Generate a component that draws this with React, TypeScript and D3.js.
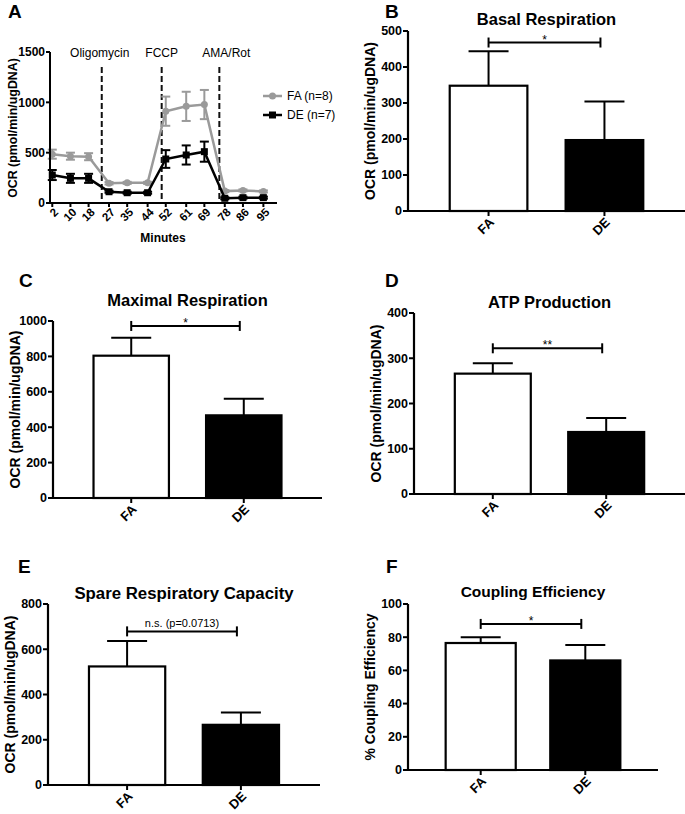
import React from 'react';
import * as d3 from 'd3';

const FONT = '"Liberation Sans", Arial, Helvetica, sans-serif';

// Panel A - OCR trace
const minutes = [2, 10, 18, 27, 35, 44, 52, 61, 69, 78, 86, 95];
const faMean = [485, 465, 460, 196, 200, 200, 912, 960, 978, 118, 125, 115];
const faSem = [45, 35, 35, 12, 10, 10, 145, 145, 145, 10, 10, 10];
const deMean = [278, 245, 245, 112, 102, 102, 437, 477, 510, 47, 53, 53];
const deSem = [50, 45, 45, 10, 10, 10, 88, 95, 100, 10, 10, 10];
const injections = ['Oligomycin', 'FCCP', 'AMA/Rot'];
const injectionMinutes = [23.8, 50.2, 75.6];
const traceTicks = [0, 500, 1000, 1500];

// Panels B-F
const groups = ['FA', 'DE'];
const basalMean = [348, 197];
const basalSem = [96, 107];
const basalTicks = [0, 100, 200, 300, 400, 500];
const maximalMean = [804, 467];
const maximalSem = [102, 94];
const maximalTicks = [0, 200, 400, 600, 800, 1000];
const atpMean = [266, 137];
const atpSem = [23, 31];
const atpTicks = [0, 100, 200, 300, 400];
const spareMean = [524, 266];
const spareSem = [113, 54];
const spareTicks = [0, 200, 400, 600, 800];
const couplingMean = [76.5, 66];
const couplingSem = [3.5, 9.3];
const couplingTicks = [0, 20, 40, 60, 80, 100];

function TracePanel() {
  const x = d3.scaleLinear().domain([1, 101]).range([50, 277]);
  const y = d3.scaleLinear().domain([0, 1500]).range([203, 52]);
  const line = d3.line<number>().x((d, i) => x(minutes[i])).y(d => y(d));
  const grey = '#9a9a9a';

  const errBars = (mean: number[], sem: number[], color: string) =>
    mean.map((m, i) => {
      const cx = x(minutes[i]);
      return (
        <g key={i} stroke={color} strokeWidth={2}>
          <line x1={cx} x2={cx} y1={y(m - sem[i])} y2={y(m + sem[i])} />
          <line x1={cx - 4.5} x2={cx + 4.5} y1={y(m + sem[i])} y2={y(m + sem[i])} />
          <line x1={cx - 4.5} x2={cx + 4.5} y1={y(m - sem[i])} y2={y(m - sem[i])} />
        </g>
      );
    });

  return (
    <g fontFamily={FONT}>
      <text x={8} y={18} fontSize={19} fontWeight="bold">A</text>
      {injectionMinutes.map((t, i) => (
        <g key={i}>
          <line x1={x(t)} x2={x(t)} y1={y(1350)} y2={y(0)} stroke="#111" strokeWidth={2} strokeDasharray="6,3" />
          <text x={x(t) + (i === 2 ? 7 : i === 0 ? -2 : 0)} y={57} fontSize={12} textAnchor="middle">{injections[i]}</text>
        </g>
      ))}
      <path d={line(faMean) || ''} fill="none" stroke={grey} strokeWidth={2.5} />
      {errBars(faMean, faSem, grey)}
      {faMean.map((m, i) => (
        <circle key={i} cx={x(minutes[i])} cy={y(m)} r={3.5} fill={grey} />
      ))}
      <path d={line(deMean) || ''} fill="none" stroke="#000" strokeWidth={2.5} />
      {errBars(deMean, deSem, '#000')}
      {deMean.map((m, i) => (
        <rect key={i} x={x(minutes[i]) - 3.5} y={y(m) - 3.5} width={7} height={7} fill="#000" />
      ))}
      <path d="M50,52V203H277" fill="none" stroke="#000" strokeWidth={2} />
      {traceTicks.map(t => (
        <g key={t}>
          <line x1={46} x2={50} y1={y(t)} y2={y(t)} stroke="#000" strokeWidth={2} />
          <text x={45} y={y(t)} dy="0.35em" fontSize={12} fontWeight="bold" textAnchor="end">{t}</text>
        </g>
      ))}
      {minutes.map(m => (
        <g key={m}>
          <line x1={x(m)} x2={x(m)} y1={203} y2={207} stroke="#000" strokeWidth={2} />
          <text transform={`translate(${x(m) + 4},${210}) rotate(-45)`} dy="0.35em" fontSize={11.5}
            fontWeight="bold" textAnchor="end">{m}</text>
        </g>
      ))}
      <text x={163} y={242} fontSize={12} fontWeight="bold" textAnchor="middle">Minutes</text>
      <text transform={`translate(17,128) rotate(-90)`} fontSize={12.4} fontWeight="bold" textAnchor="middle">
        OCR (pmol/min/ugDNA)
      </text>
      <line x1={263} x2={282} y1={96} y2={96} stroke={grey} strokeWidth={2.5} />
      <circle cx={272.5} cy={96} r={3.5} fill={grey} />
      <text x={287} y={96} dy="0.35em" fontSize={12}>FA (n=8)</text>
      <line x1={263} x2={282} y1={115} y2={115} stroke="#000" strokeWidth={2.5} />
      <rect x={269} y={111.5} width={7} height={7} fill="#000" />
      <text x={287} y={115} dy="0.35em" fontSize={12}>DE (n=7)</text>
    </g>
  );
}

type BarProps = {
  letter: string;
  letterX: number;
  letterY: number;
  title: string;
  titleY: number;
  titleSize: number;
  ylabel: string;
  mean: number[];
  sem: number[];
  ticks: number[];
  sigLevel: number;
  sigText: string;
  left: number;
  right: number;
  top: number;
  bottom: number;
};

function BarPanel(p: BarProps) {
  const yMax = p.ticks[p.ticks.length - 1];
  const y = d3.scaleLinear().domain([0, yMax]).range([p.bottom, p.top]);
  const x = d3.scaleBand().domain(groups).range([p.left, p.right]).paddingInner(0.33).paddingOuter(0.36);
  const bw = x.bandwidth();
  const cx = (g: string) => (x(g) as number) + bw / 2;
  const sy = y(p.sigLevel);
  const sx1 = cx(groups[0]);
  const sx2 = cx(groups[1]) - 4;
  const ns = p.sigText.length > 3;

  return (
    <g fontFamily={FONT}>
      <text x={p.letterX} y={p.letterY} fontSize={19} fontWeight="bold">{p.letter}</text>
      <text x={(p.left + p.right) / 2} y={p.titleY} fontSize={p.titleSize} fontWeight="bold" textAnchor="middle">
        {p.title}
      </text>
      {groups.map((g, i) => {
        const c = cx(g);
        const top = y(p.mean[i] + p.sem[i]);
        return (
          <g key={g}>
            <line x1={c} x2={c} y1={y(p.mean[i])} y2={top} stroke="#000" strokeWidth={2} />
            <line x1={c - 20} x2={c + 20} y1={top} y2={top} stroke="#000" strokeWidth={2} />
            <rect x={x(g)} y={y(p.mean[i])} width={bw} height={p.bottom - y(p.mean[i])}
              fill={i === 0 ? '#fff' : '#000'} stroke="#000" strokeWidth={2.2} />
          </g>
        );
      })}
      <path d={`M${p.left},${p.top}V${p.bottom}H${p.right}`} fill="none" stroke="#000" strokeWidth={2.2} />
      {p.ticks.map(t => (
        <g key={t}>
          <line x1={p.left - 5} x2={p.left} y1={y(t)} y2={y(t)} stroke="#000" strokeWidth={2} />
          <text x={p.left - 6} y={y(t)} dy="0.35em" fontSize={12.5} fontWeight="bold" textAnchor="end">{t}</text>
        </g>
      ))}
      {groups.map(g => (
        <g key={g}>
          <line x1={cx(g)} x2={cx(g)} y1={p.bottom} y2={p.bottom + 5} stroke="#000" strokeWidth={2} />
          <text transform={`translate(${cx(g) + 3},${p.bottom + 9}) rotate(-45)`} dy="0.35em" fontSize={13}
            fontWeight="bold" textAnchor="end">{g}</text>
        </g>
      ))}
      <text transform={`translate(${p.left - 38},${(p.top + p.bottom) / 2}) rotate(-90)`} dy="0.35em"
        fontSize={14} fontWeight="bold" textAnchor="middle">{p.ylabel}</text>
      <g stroke="#000" strokeWidth={2}>
        <line x1={sx1} x2={sx2} y1={sy} y2={sy} />
        <line x1={sx1} x2={sx1} y1={sy - 5} y2={sy + 5} />
        <line x1={sx2} x2={sx2} y1={sy - 5} y2={sy + 5} />
      </g>
      <text x={(sx1 + sx2) / 2} y={ns ? sy - 4 : sy + 1} fontSize={ns ? 11 : 12} textAnchor="middle">{p.sigText}</text>
    </g>
  );
}

export default function App() {
  const ocr = 'OCR (pmol/min/ugDNA)';
  return (
    <svg width={685} height={814} style={{ position: 'absolute', left: 0, top: 0, background: '#fff' }}>
      <rect width={685} height={814} fill="#fff" />
      <TracePanel />
      <BarPanel letter="B" letterX={385} letterY={18} title="Basal Respiration" titleY={25} titleSize={16.5}
        ylabel={ocr} mean={basalMean} sem={basalSem} ticks={basalTicks} sigLevel={468} sigText="*"
        left={408} right={685} top={31} bottom={211} />
      <BarPanel letter="C" letterX={19} letterY={287} title="Maximal Respiration" titleY={306} titleSize={16.5}
        ylabel={ocr} mean={maximalMean} sem={maximalSem} ticks={maximalTicks} sigLevel={972} sigText="*"
        left={53} right={322} top={321} bottom={498} />
      <BarPanel letter="D" letterX={385} letterY={287} title="ATP Production" titleY={308} titleSize={16.5}
        ylabel={ocr} mean={atpMean} sem={atpSem} ticks={atpTicks} sigLevel={322} sigText="**"
        left={414} right={685} top={313} bottom={494} />
      <BarPanel letter="E" letterX={18} letterY={573} title="Spare Respiratory Capacity" titleY={599} titleSize={16.8}
        ylabel={ocr} mean={spareMean} sem={spareSem} ticks={spareTicks} sigLevel={679} sigText="n.s. (p=0.0713)"
        left={48} right={320} top={604} bottom={785} />
      <BarPanel letter="F" letterX={386} letterY={573} title="Coupling Efficiency" titleY={597} titleSize={15.5}
        ylabel="% Coupling Efficiency" mean={couplingMean} sem={couplingSem} ticks={couplingTicks} sigLevel={88}
        sigText="*" left={408} right={658} top={604} bottom={770} />
    </svg>
  );
}
